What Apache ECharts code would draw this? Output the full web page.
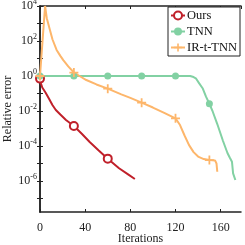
<!DOCTYPE html>
<html><head><meta charset="utf-8">
<script src="https://cdn.jsdelivr.net/npm/echarts@6/dist/echarts.min.js"></script>
<style>html,body{margin:0;padding:0;background:#fff}#c{width:245px;height:245px}</style>
</head><body><div id="c"></div>
<script>
const xTicks = [0, 40, 80, 120, 160];
const yLabelValues = [1e-6, 1e-4, 1e-2, 1, 1e2, 1e4];
const yTickValues = [1e-7, 1e-6, 1e-5, 1e-4, 1e-3, 1e-2, 1e-1, 1, 1e1, 1e2, 1e3, 1e4];
const markerIters = [0, 30, 60, 90, 120, 150];
const seriesNames = ['Ours', 'TNN', 'IR-t-TNN'];

const oursIter = [0, 1, 2, 3, 5, 8, 11, 14, 18, 23, 30, 37, 44, 52, 60, 70, 78, 84];
const oursErr = [7.1e-1, 3.5e-1, 2.2e-1, 1.7e-1, 1.1e-1, 5.0e-2, 2.2e-2, 1.15e-2, 6.3e-3, 3.1e-3, 1.38e-3, 5.0e-4, 1.7e-4, 5.6e-5, 1.9e-5, 5.4e-6, 2.4e-6, 1.3e-6];

const tnnIter = [0, 30, 60, 90, 120, 133, 136, 138, 141, 144, 147, 150, 153, 157, 162, 166, 168, 170, 171, 173];
const tnnErr = [1, 1, 1, 1, 1, 1, 0.87, 0.74, 0.38, 0.2, 0.066, 0.026, 0.0091, 0.0018, 2.0e-4, 4.0e-5, 2.2e-5, 1.26e-5, 2.75e-6, 1.15e-6];

const irIter = [0, 4.5, 6, 8.8, 11, 14.7, 18, 20.6, 25, 30, 35, 41, 50, 60, 72, 80, 90, 100, 110, 120, 124, 128, 132, 136, 140, 145, 150, 155, 156.3, 157];
const irErr = [1, 1e4, 2000, 427, 126, 31, 14.1, 8.1, 3.55, 1.58, 1.0, 0.59, 0.33, 0.19, 0.089, 0.056, 0.030, 0.0158, 0.0079, 0.0038, 0.00158, 4.0e-4, 1.12e-4, 4.5e-5, 2.5e-5, 1.8e-5, 1.58e-5, 1.5e-5, 1.0e-5, 3.4e-6];

const colors = ['#C0202A', '#82D1A3', '#FDB66B'];
const FONT = 'Liberation Serif';
const plusPath = 'path://M4,0H6V4H10V6H6V10H4V6H0V4H4Z';

function build(iters, vals) {
  return iters.map((x, i) => {
    const d = { value: [x, vals[i]] };
    if (!markerIters.includes(x)) d.symbol = 'none';
    return d;
  });
}

const axisLine = { show: true, lineStyle: { color: '#222', width: 1.5 } };
const yFmt = function (v) {
  const e = Math.round(Math.log10(v));
  return '{b|10}{s|' + e + '}';
};
const yRich = {
  b: { fontFamily: FONT, fontSize: 12, color: '#222' },
  s: { fontFamily: FONT, fontSize: 8, color: '#222', padding: [0, 0, 8, 0] }
};
const yTick = { inside: true, length: 3, lineStyle: { color: '#222' }, customValues: yTickValues };

const chart = echarts.init(document.getElementById('c'), null, { renderer: 'canvas' });
chart.setOption({
  animation: false,
  grid: { left: 40, right: 4, top: 6, bottom: 33, containLabel: false, outerBoundsMode: 'none' },
  legend: {
    orient: 'vertical', right: 5, top: 7,
    data: seriesNames,
    backgroundColor: '#fff', borderColor: '#222', borderWidth: 1,
    padding: [2, 3, 2, 2], itemGap: 3, itemWidth: 14, itemHeight: 10,
    textStyle: { fontFamily: FONT, fontSize: 12.5, color: '#111', padding: [0, 0, 0, -3] }
  },
  xAxis: [{
    type: 'value', min: 0, max: 178, interval: 40,
    name: 'Iterations', nameLocation: 'middle', nameGap: 21, nameMoveOverlap: false,
    nameTextStyle: { fontFamily: FONT, fontSize: 12, color: '#222' },
    axisLine: axisLine,
    axisTick: { inside: true, length: 3, lineStyle: { color: '#222' } },
    axisLabel: { fontFamily: FONT, fontSize: 12, color: '#222', margin: 10, showMaxLabel: false,
      formatter: v => xTicks.includes(v) ? String(v) : '' },
    splitLine: { show: false }
  }, {
    type: 'value', position: 'top', min: 0, max: 178, interval: 40,
    axisLine: axisLine,
    axisTick: { inside: true, length: 3, lineStyle: { color: '#222' } },
    axisLabel: { show: false }, splitLine: { show: false }
  }],
  yAxis: [{
    type: 'log', logBase: 10, min: 1.7e-8, max: 1e4,
    name: 'Relative error', nameLocation: 'middle', nameGap: 26, nameRotate: 90, nameMoveOverlap: false,
    nameTextStyle: { fontFamily: FONT, fontSize: 12, color: '#222' },
    axisLine: axisLine,
    axisTick: yTick,
    axisLabel: { margin: 3, formatter: yFmt, rich: yRich, customValues: yLabelValues },
    splitLine: { show: false }
  }, {
    type: 'log', logBase: 10, min: 1.7e-8, max: 1e4, position: 'right',
    axisLine: axisLine,
    axisTick: yTick,
    axisLabel: { show: false }, splitLine: { show: false }
  }],
  series: [{
    name: seriesNames[0], type: 'line', data: build(oursIter, oursErr),
    symbol: 'emptyCircle', symbolSize: 8, showAllSymbol: true,
    lineStyle: { color: colors[0], width: 2 },
    itemStyle: { color: colors[0], borderColor: colors[0], borderWidth: 1.5 }
  }, {
    name: seriesNames[1], type: 'line', data: build(tnnIter, tnnErr),
    symbol: 'circle', symbolSize: 7, showAllSymbol: true,
    lineStyle: { color: colors[1], width: 2 },
    itemStyle: { color: colors[1] }
  }, {
    name: seriesNames[2], type: 'line', data: build(irIter, irErr),
    symbol: plusPath, symbolSize: 9, showAllSymbol: true,
    lineStyle: { color: colors[2], width: 2 },
    itemStyle: { color: colors[2], borderWidth: 0 }
  }]
});
</script></body></html>
